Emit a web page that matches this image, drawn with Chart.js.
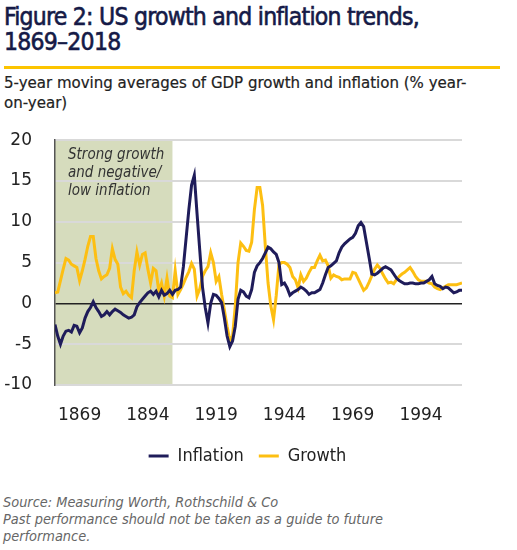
<!DOCTYPE html>
<html lang="en">
<head>
  <meta charset="UTF-8">
  <title>US growth and inflation trends, 1869-2018</title>
  <script src="https://cdn.jsdelivr.net/npm/chart.js"></script>
  <style>
    body {
      margin: 0;
      width: 517px;
      height: 550px;
      background: #fff;
      position: relative;
      overflow: hidden;
      font-family: "DejaVu Sans Condensed", "DejaVu Sans", sans-serif;
    }
    #title {
      position: absolute;
      left: 4px;
      top: 4px;
      font-size: 24.5px;
      line-height: 25px;
      letter-spacing: -0.75px;
      color: #151a47;
      -webkit-text-stroke: 0.6px #151a47;
    }
    #rule {
      position: absolute;
      left: 4px;
      top: 66px;
      width: 496px;
      height: 3px;
      background: #fcc400;
    }
    #subtitle {
      position: absolute;
      left: 4px;
      top: 72px;
      font-size: 16.7px;
      line-height: 20px;
      color: #222;
      -webkit-text-stroke: 0.2px #222;
    }
    #wrap {
      position: absolute;
      left: 0;
      top: 107px;
      width: 517px;
      height: 368px;
    }
    #source {
      position: absolute;
      left: 3px;
      top: 494px;
      font-size: 14.4px;
      line-height: 17px;
      font-style: italic;
      color: #666;
    }
  </style>
</head>
<body>

  <div id="title">Figure 2: US growth and inflation trends,<br>1869–2018</div>
  <div id="rule"></div>
  <div id="subtitle">5-year moving averages of GDP growth and inflation (% year-<br>on-year)</div>

  <div id="wrap"><canvas id="chart"></canvas></div>

  <div id="source">Source: Measuring Worth, Rothschild &amp; Co<br>Past performance should not be taken as a guide to future<br>performance.</div>

  <script>
    // 5-year moving averages, % y/y, one value per year from 1869
    const firstYear = 1869;

    const inflation = [
      -2.6, -4.0, -5.0, -4.0, -3.4, -3.3, -3.5, -2.7, -2.8, -3.6,   // 1869
      -3.0, -1.8, -1.0, -0.5, 0.2, -0.5, -1.0, -1.6, -1.4, -1.0,    // 1879
      -1.4, -1.0, -0.7, -0.9, -1.1, -1.4, -1.6, -1.8, -1.7, -1.4,   // 1889
      -0.4, 0.1, 0.5, 0.9, 1.3, 1.5, 1.1, 1.5, 0.8, 1.6,            // 1899
      1.0, 1.2, 1.6, 1.1, 1.6, 1.7, 2.0, 4.5, 8.0, 11.5,            // 1909
      14.5, 15.7, 11.0, 6.5, 2.0, -0.5, -2.4, 0.0, 1.1, 1.0,        // 1919
      0.6, 0.1, -1.8, -4.0, -5.3, -4.6, -2.8, 0.5, 1.6, 1.4,        // 1929
      0.9, 0.7, 1.7, 3.8, 4.6, 5.0, 5.5, 6.2, 6.9, 6.7,             // 1939
      6.3, 6.0, 5.0, 2.3, 2.5, 1.9, 1.0, 1.3, 1.5, 1.7,             // 1949
      2.0, 1.8, 1.5, 1.1, 1.3, 1.3, 1.5, 1.7, 2.5, 3.5,             // 1959
      4.4, 4.6, 4.9, 5.2, 6.2, 6.9, 7.3, 7.6, 7.9, 8.1,             // 1969
      8.6, 9.5, 9.9, 9.4, 7.5, 5.6, 3.6, 3.5, 3.7, 4.0,             // 1979
      4.3, 4.5, 4.3, 4.1, 3.6, 3.1, 2.8, 2.6, 2.4, 2.4,             // 1989
      2.5, 2.5, 2.4, 2.4, 2.5, 2.5, 2.7, 2.9, 3.3, 2.4,             // 1999
      2.2, 2.1, 1.8, 2.0, 1.9, 1.6, 1.3, 1.4, 1.6, 1.6              // 2009
    ];

    const growth = [
      1.3, 1.4, 2.8, 4.2, 5.5, 5.3, 4.8, 4.6, 4.4, 2.8,             // 1869
      4.0, 5.4, 7.0, 8.2, 8.2, 5.5, 4.0, 3.0, 3.3, 3.5,             // 1879
      4.3, 6.7, 5.4, 4.8, 2.0, 1.2, 1.5, 1.0, 0.7, 4.0,             // 1889
      6.3, 4.7, 6.0, 6.2, 4.2, 2.5, 4.3, 4.0, 1.5, 2.5,             // 1899
      0.9, 3.1, 0.9, 0.7, 4.0, 1.1, 1.7, 2.4, 3.2, 3.9,             // 1909
      4.9, 4.2, 0.9, 1.8, 3.3, 4.0, 4.5, 6.2, 5.0, 2.7,             // 1919
      3.3, 1.1, -0.8, -2.8, -4.5, -4.0, -0.3, 5.0, 7.4, 7.0,        // 1929
      6.5, 6.4, 7.5, 11.5, 14.2, 14.2, 12.0, 7.0, 2.5, -0.3,        // 1939
      -2.0, 1.0, 4.8, 5.0, 5.0, 4.8, 4.4, 3.3, 2.9, 1.9,            // 1949
      3.5, 2.7, 3.1, 3.8, 4.4, 4.4, 5.2, 5.9, 5.2, 5.3,             // 1959
      4.6, 3.1, 3.5, 3.3, 3.2, 2.9, 3.0, 3.0, 3.0, 3.8,             // 1969
      3.7, 3.0, 2.3, 1.6, 1.9, 2.6, 3.4, 4.2, 4.7, 4.3,             // 1979
      3.6, 3.0, 2.5, 2.6, 2.4, 2.9, 3.3, 3.6, 3.8, 4.1,             // 1989
      4.4, 3.9, 3.3, 2.9, 2.7, 2.7, 2.7, 2.5, 2.4, 2.0,             // 1999
      1.8, 1.7, 1.9, 2.1, 2.3, 2.3, 2.3, 2.3, 2.4, 2.5              // 2009
    ];

    const years = growth.map((_, i) => firstYear + i);

    const xTickLabels = [1869, 1894, 1919, 1944, 1969, 1994];
    const yTicks = [20, 15, 10, 5, 0, -5, -10];

    // shaded period
    const shadeFrom = 1869;
    const shadeTo = 1912;
    const shadeText = ['Strong growth', 'and negative/', 'low inflation'];

    // in the source chart each year label sits about 9 years right of its year
    const labelShift = 9;

    const navy = '#1f1c5a';
    const yellow = '#fdbf12';
    const tickFont = { family: '"DejaVu Sans", sans-serif', size: 17 };

    const shadePlugin = {
      id: 'shade',
      beforeDraw(chart) {
        const { ctx, chartArea, scales } = chart;
        const x1 = scales.x.getPixelForValue(shadeFrom);
        const x2 = scales.x.getPixelForValue(shadeTo);
        ctx.save();
        ctx.fillStyle = '#d6dcbd';
        ctx.fillRect(x1, chartArea.top, x2 - x1, chartArea.bottom - chartArea.top);
        ctx.restore();
      },
      afterDraw(chart) {
        const { ctx, chartArea, scales } = chart;
        const x1 = scales.x.getPixelForValue(shadeFrom);
        ctx.save();
        ctx.fillStyle = '#333';
        ctx.font = 'italic 15px "DejaVu Sans Condensed", "DejaVu Sans", sans-serif';
        ctx.textBaseline = 'alphabetic';
        shadeText.forEach((t, i) => {
          ctx.fillText(t, x1 + 13, chartArea.top + 19 + i * 18);
        });
        ctx.restore();
      }
    };

    const ctx = document.getElementById('chart').getContext('2d');
    const chart = new Chart(ctx, {
      type: 'line',
      data: {
        datasets: [
          {
            label: 'Inflation',
            data: years.map((y, i) => ({ x: y, y: inflation[i] })),
            borderColor: navy,
            backgroundColor: navy,
            borderWidth: 3,
            pointRadius: 0,
            tension: 0
          },
          {
            label: 'Growth',
            data: years.map((y, i) => ({ x: y, y: growth[i] })),
            borderColor: yellow,
            backgroundColor: yellow,
            borderWidth: 3,
            pointRadius: 0,
            tension: 0
          }
        ]
      },
      options: {
        responsive: true,
        maintainAspectRatio: false,
        animation: false,
        layout: { padding: { top: 14, right: 22, left: 0, bottom: 0 } },
        plugins: {
          tooltip: { enabled: false },
          legend: {
            position: 'bottom',
            labels: {
              usePointStyle: true,
              pointStyle: 'line',
              pointStyleWidth: 20,
              padding: 15,
              color: '#222',
              font: { family: '"DejaVu Sans Condensed", "DejaVu Sans", sans-serif', size: 18 }
            }
          }
        },
        scales: {
          x: {
            type: 'linear',
            min: firstYear,
            max: years[years.length - 1],
            afterBuildTicks: (s) => {
              s.ticks = xTickLabels.map(v => ({ value: v + labelShift }));
            },
            afterFit: (s) => { s.height = 47; },
            ticks: {
              autoSkip: false,
              maxRotation: 0,
              padding: 12,
              color: '#222',
              font: tickFont,
              callback: (v) => String(v - labelShift)
            },
            grid: { display: false },
            border: { display: false }
          },
          y: {
            min: -10,
            max: 20,
            afterBuildTicks: (s) => {
              s.ticks = yTicks.map(v => ({ value: v }));
            },
            afterFit: (s) => { s.width = 55; },
            ticks: {
              padding: 23,
              color: '#222',
              font: tickFont
            },
            grid: {
              drawTicks: false,
              color: (c) => c.tick && c.tick.value === 0 ? '#222' : '#d9d9d9',
              lineWidth: (c) => c.tick && c.tick.value === 0 ? 1.5 : 2
            },
            border: { display: true, color: '#555', width: 1.5 }
          },
          // empty right-hand margin, keeps the legend centred as in the source
          gap: {
            type: 'linear',
            position: 'right',
            display: true,
            afterFit: (s) => { s.width = 33; },
            ticks: { display: false },
            grid: { display: false },
            border: { display: false }
          }
        }
      },
      plugins: [shadePlugin]
    });
  </script>
</body>
</html>
